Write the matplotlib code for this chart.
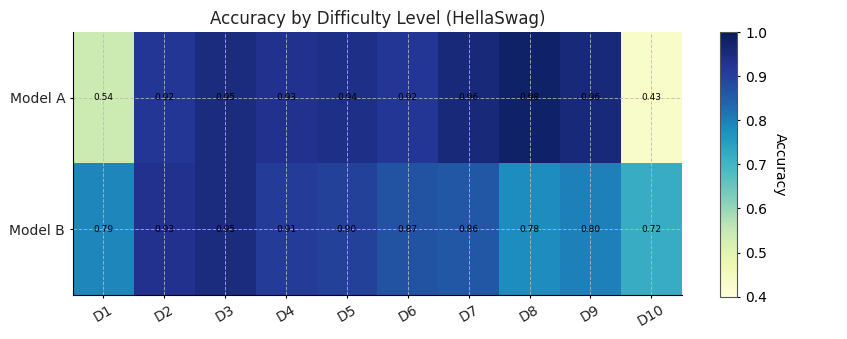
import numpy as np
import matplotlib
matplotlib.use("Agg")
import matplotlib.pyplot as plt

models = ["Model A", "Model B"]
levels = ["D1", "D2", "D3", "D4", "D5", "D6", "D7", "D8", "D9", "D10"]
model_a = [0.54, 0.92, 0.95, 0.93, 0.94, 0.92, 0.96, 0.98, 0.96, 0.43]
model_b = [0.79, 0.93, 0.95, 0.91, 0.90, 0.87, 0.86, 0.78, 0.80, 0.72]

data = np.array([model_a, model_b])

fig = plt.figure(figsize=(8.47, 3.39), dpi=100)
ax = fig.add_axes((0.086, 0.13, 0.719, 0.776))
im = ax.imshow(data, cmap="YlGnBu", vmin=0.4, vmax=1.0, aspect="auto")
ax.set_xticks(range(len(levels)))
ax.set_xticklabels(levels, rotation=30, fontsize=10, color="#222222")
ax.set_yticks(range(len(models)))
ax.set_yticklabels(models, fontsize=10, color="#222222")
ax.tick_params(length=2.5, pad=3)
for i in range(data.shape[0]):
    for j in range(data.shape[1]):
        ax.text(j, i, "%.2f" % data[i, j], ha="center", va="center", fontsize=6.5, color="black")
ax.grid(True, linestyle="--", color="#bbbbbb", alpha=0.8, linewidth=0.7)
ax.spines["top"].set_visible(False)
ax.spines["right"].set_visible(False)
ax.set_title("Accuracy by Difficulty Level (HellaSwag)", fontsize=12, color="#222222")

cax = fig.add_axes((0.850, 0.125, 0.020, 0.78))
cb = fig.colorbar(im, cax=cax)
cb.outline.set_edgecolor("#555555")
cb.ax.tick_params(labelsize=10, length=2.5)
cb.set_label("Accuracy", rotation=270, labelpad=14, fontsize=10)

fig.savefig("out.png", dpi=100)
